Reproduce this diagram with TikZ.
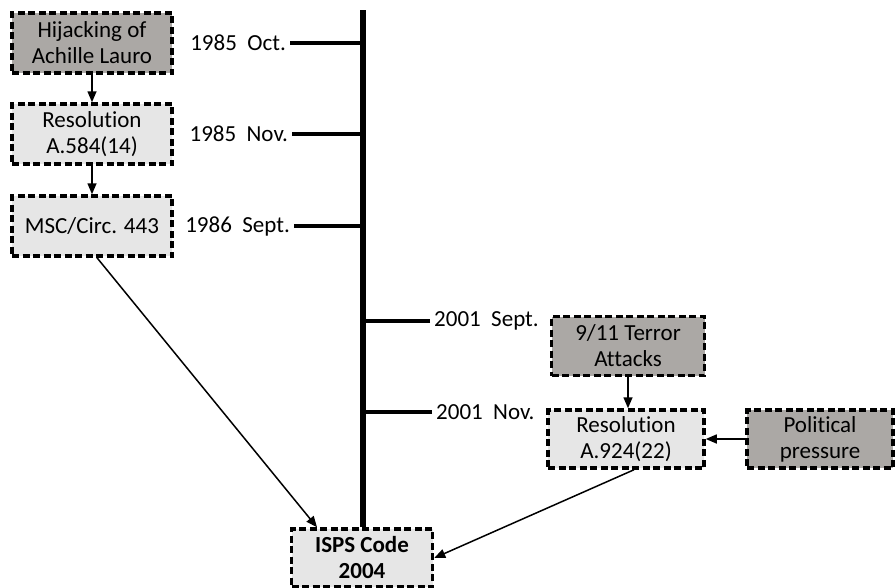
\documentclass[tikz,border=0pt]{standalone}
\usepackage{fontspec}
\setmainfont{Carlito}[Ligatures=NoCommon]
\usetikzlibrary{arrows.meta,calc}
\definecolor{darkbox}{RGB}{171,168,165}
\definecolor{lightbox}{RGB}{230,230,230}
\begin{document}
\begin{tikzpicture}[x=1pt,y=-1pt,
  evbox/.style={draw=black, line width=3.5pt, dash pattern=on 7pt off 3.5pt, align=center,
    minimum width=#1, inner sep=1pt, font=\fontsize{23}{26}\selectfont},
  dark/.style={fill=darkbox},
  light/.style={fill=lightbox},
  datelab/.style={inner sep=4pt, font=\fontsize{23}{26}\selectfont},
  tick/.style={line width=4pt},
  spine/.style={line width=6pt},
  arr/.style={line width=1.5pt, -{Triangle[length=11pt,width=9pt]}}]
\useasboundingbox (0,0) rectangle (895,587);

% boxes
\node[evbox=160pt, minimum height=60pt, dark]  (hij)  at (92,43)  {Hijacking of\\Achille Lauro};
\node[evbox=160pt, minimum height=60pt, light] (res1) at (92,134) {Resolution\\A.584(14)};
\node[evbox=160pt, minimum height=60pt, light] (msc)  at (92,226) {MSC/Circ. 443};
\node[evbox=153pt, minimum height=59pt, dark]  (t911) at (628,346) {9/11 Terror\\Attacks};
\node[evbox=156pt, minimum height=58pt, light] (res2) at (626,439) {Resolution\\A.924(22)};
\node[evbox=146pt, minimum height=58pt, dark]  (pol)  at (820,439) {Political\\pressure};
\node[evbox=141pt, minimum height=58pt, light, font=\fontsize{23}{26}\selectfont\bfseries] (isps) at (362,558) {ISPS Code\\2004};

% timeline
\coordinate (top) at (363,10);
\draw[spine] (top) -- (top |- isps.north);

% date labels
\node[datelab, anchor=east] (d1) at (290,43)  {1985~~Oct.};
\node[datelab, anchor=east] (d2) at (292,134) {1985~~Nov.};
\node[datelab, anchor=east] (d3) at (294,226) {1986~~Sept.};
\node[datelab, anchor=west] (d4) at (430,321) {2001~~Sept.};
\node[datelab, anchor=west] (d5) at (432,412) {2001~~Nov.};

\draw[tick] (d1.east) -- (d1.east -| top);
\draw[tick] (d2.east) -- (d2.east -| top);
\draw[tick] (d3.east) -- (d3.east -| top);
\draw[tick] (d4.west) -- (d4.west -| top);
\draw[tick] (d5.west) -- (d5.west -| top);

% arrows
\draw[arr] (hij.south) -- (res1.north);
\draw[arr] (res1.south) -- (msc.north);
\draw[arr] ($(msc.south)+(5,0)$) -- ($(isps.north)+(-45,0)$);
\draw[arr] (t911.south) -- (t911.south |- res2.north);
\draw[arr] (pol.west) -- (res2.east);
\draw[arr] ($(res2.south)+(8,0)$) -- (isps.east);
\end{tikzpicture}
\end{document}
